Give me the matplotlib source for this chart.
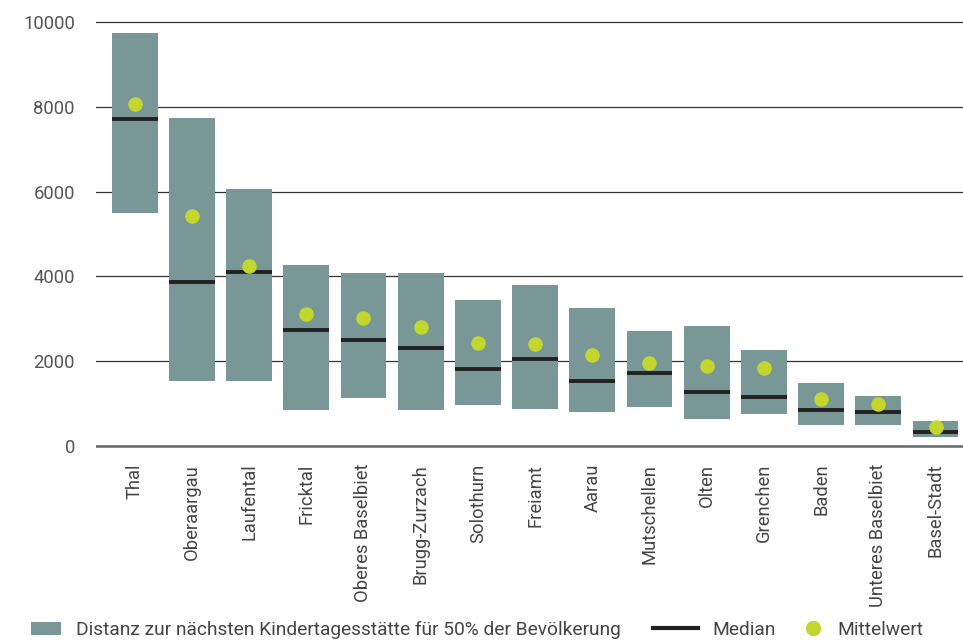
import numpy as np
import matplotlib
matplotlib.use("Agg")
import matplotlib.pyplot as plt
from matplotlib.patches import Patch
from matplotlib.lines import Line2D

regionen = ["Thal", "Oberaargau", "Laufental", "Fricktal", "Oberes Baselbiet",
            "Brugg-Zurzach", "Solothurn", "Freiamt", "Aarau", "Mutschellen",
            "Olten", "Grenchen", "Baden", "Unteres Baselbiet", "Basel-Stadt"]
unten = [5485, 1520, 1520, 834, 1118, 850, 952, 867, 796, 921, 630, 741, 496, 496, 213]
oben = [9750, 7740, 6063, 4268, 4079, 4079, 3441, 3795, 3252, 2709, 2827, 2260, 1480, 1173, 583]
median = [7706, 3875, 4094, 2724, 2487, 2298, 1818, 2038, 1520, 1709, 1260, 1157, 834, 786, 331]
mittelwert = [8063, 5425, 4243, 3110, 3016, 2803, 2425, 2393, 2142, 1945, 1874, 1842, 1094, 992, 449]
y_ticks = [0, 2000, 4000, 6000, 8000, 10000]

farbe_box = "#7a9797"
farbe_mw = "#c2d62e"
farbe_med = "#222222"

plt.rcParams["font.family"] = ["Roboto", "DejaVu Sans"]

fig = plt.figure(figsize=(9.63, 6.4), dpi=100)
ax = fig.add_axes([0.0994, 0.297, 0.9006, 0.6747])

x = np.arange(len(regionen))
breite = 0.8
hoehe = np.array(oben) - np.array(unten)
ax.bar(x, hoehe, bottom=unten, width=breite, color=farbe_box, zorder=2)
ax.hlines(median, x - breite / 2, x + breite / 2, color=farbe_med, lw=2.8, zorder=3)
ax.scatter(x, mittelwert, s=110, color=farbe_mw, zorder=4, linewidths=0)

for t in y_ticks:
    if t == 0:
        ax.axhline(t, color="#666666", lw=1.8, zorder=1)
    else:
        ax.axhline(t, color="#333333", lw=0.9, zorder=1)

ax.set_xlim(-0.68, 14.48)
ax.set_ylim(-100, 10100)
ax.set_yticks(y_ticks)
ax.set_yticklabels([str(t) for t in y_ticks])
ax.set_xticks(x)
ax.set_xticklabels(regionen, rotation=90, va="top", ha="center")
ax.tick_params(axis="y", length=0, pad=15, labelsize=13.3, labelcolor="#555555")
ax.tick_params(axis="x", length=0, pad=10, labelsize=13.2, labelcolor="#444444")
for s in ax.spines.values():
    s.set_visible(False)

# Legende: drei Teile, einzeln platziert
fs = 13.8
y_leg = 0.0156
legenden = [
    (Patch(facecolor=farbe_box, edgecolor="none"),
     "Distanz zur nächsten Kindertagesstätte für 50% der Bevölkerung", 0.0322, 1.56, 0.63),
    (Line2D([], [], color=farbe_med, lw=3), "Median", 0.678, 2.34, 0.7),
    (Line2D([], [], marker="o", ls="none", markersize=10, color=farbe_mw),
     "Mittelwert", 0.834, 1.0, 0.7),
]
for h, lab, xpos, hl, hh in legenden:
    fig.legend([h], [lab], loc="center left", bbox_to_anchor=(xpos, y_leg),
               frameon=False, fontsize=fs, labelcolor="#444444", handlelength=hl,
               handleheight=hh, handletextpad=0.78, borderpad=0, borderaxespad=0)

fig.savefig("out.png", dpi=100)
